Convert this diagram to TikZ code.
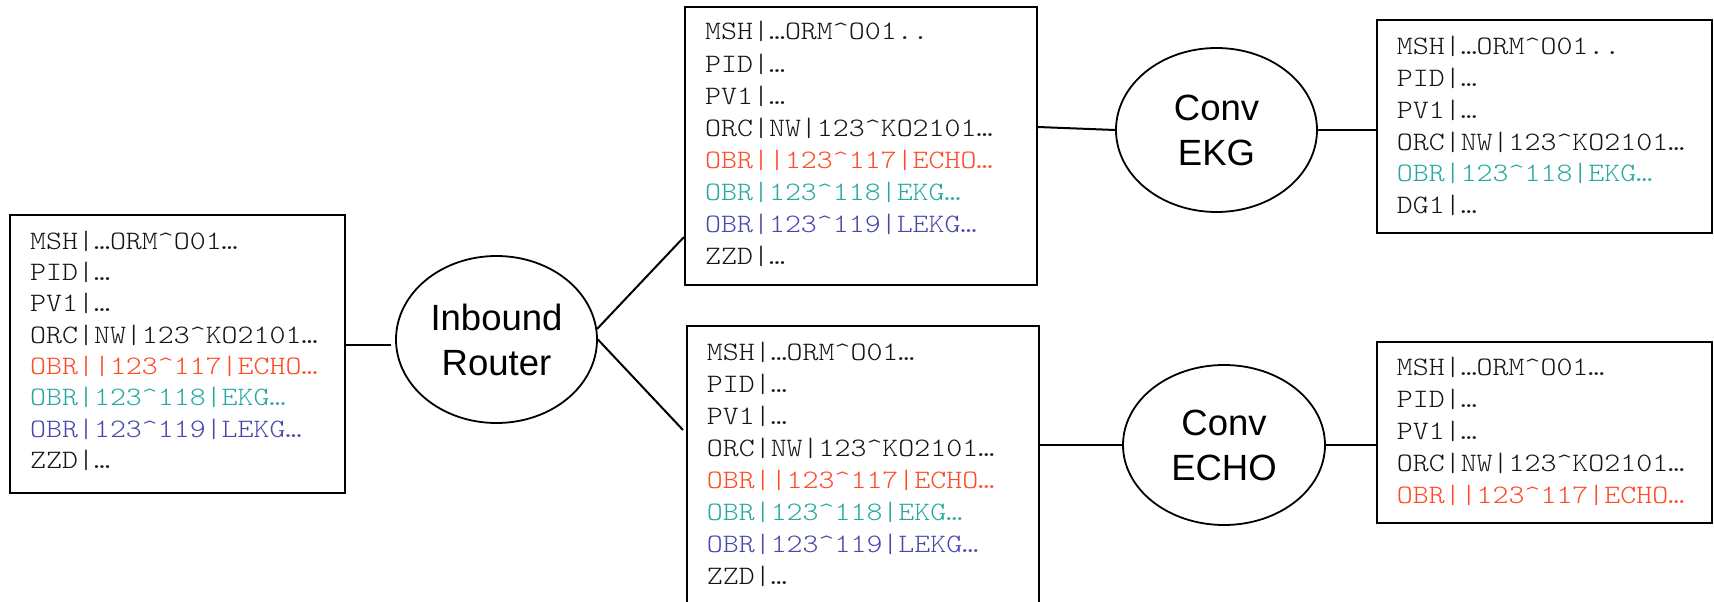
\documentclass[tikz,border=0pt]{standalone}
\usepackage{fontspec}
\usetikzlibrary{shapes.geometric}
\newfontfamily\hlmono[FakeStretch=1.143]{lmmonolt10-regular.otf}
\newfontfamily\hlsans{Liberation Sans}
\definecolor{obrred}{RGB}{255,72,36}
\definecolor{obrteal}{RGB}{38,168,160}
\definecolor{obrblue}{RGB}{72,72,172}
\definecolor{segblack}{RGB}{20,20,20}
\newcommand\ct{\textasciicircum}
\begin{document}
\begin{tikzpicture}[x=1pt,y=-1pt,
  msgbox/.style={draw=black, line width=2pt, rectangle, inner sep=0pt},
  proc/.style={draw=black, line width=1.8pt, ellipse, inner sep=0pt, font=\hlsans\fontsize{36.5}{45}\selectfont, align=center},
  seg/.style={anchor=base west, inner sep=0pt, font=\hlmono\fontsize{26.6}{32}\selectfont},
  wire/.style={line width=2pt}]
\path[use as bounding box] (0,0) rectangle (1714,602);
\clip (0,0) rectangle (1714,602);

% message boxes
\node[msgbox, minimum width=335pt, minimum height=278pt] (b1) at (177.5,354) {};
\node[msgbox, minimum width=352pt, minimum height=278pt] (b2) at (861,146) {};
\node[msgbox, minimum width=352pt, minimum height=284pt] (b3) at (863,468) {};
\node[msgbox, minimum width=335pt, minimum height=213pt] (b4) at (1544.5,126.5) {};
\node[msgbox, minimum width=335pt, minimum height=181pt] (b5) at (1544.5,432.5) {};

% processes
\node[proc, minimum width=201pt, minimum height=167pt] (router) at (496.5,339.5) {Inbound\\Router};
\node[proc, minimum width=201pt, minimum height=164pt] (ekg) at (1216.5,130) {Conv\\EKG};
\node[proc, minimum width=202pt, minimum height=160pt] (echo) at (1224,445) {Conv\\ECHO};

% segment lines
\foreach \t/\c [count=\i from 0] in {MSH|…ORM\ct O01…/segblack, PID|…/segblack, PV1|…/segblack, ORC|NW|123\ct KO2101…/segblack, OBR||123\ct 117|ECHO…/obrred, OBR|123\ct 118|EKG…/obrteal, OBR|123\ct 119|LEKG…/obrblue, ZZD|…/segblack}
  \node[seg, text=\c] (b1l\i) at (30,{249.3+31.3*\i}) {\t};

\foreach \t/\c [count=\i from 0] in {MSH|…ORM\ct O01../segblack, PID|…/segblack, PV1|…/segblack, ORC|NW|123\ct KO2101…/segblack, OBR||123\ct 117|ECHO…/obrred, OBR|123\ct 118|EKG…/obrteal, OBR|123\ct 119|LEKG…/obrblue, ZZD|…/segblack}
  \node[seg, text=\c] (b2l\i) at (705,{40+32.14*\i}) {\t};

\foreach \t/\c [count=\i from 0] in {MSH|…ORM\ct O01…/segblack, PID|…/segblack, PV1|…/segblack, ORC|NW|123\ct KO2101…/segblack, OBR||123\ct 117|ECHO…/obrred, OBR|123\ct 118|EKG…/obrteal, OBR|123\ct 119|LEKG…/obrblue, ZZD|…/segblack}
  \node[seg, text=\c] (b3l\i) at (706.7,{360+32.14*\i}) {\t};

\foreach \t/\c [count=\i from 0] in {MSH|…ORM\ct O01../segblack, PID|…/segblack, PV1|…/segblack, ORC|NW|123\ct KO2101…/segblack, OBR|123\ct 118|EKG…/obrteal, DG1|…/segblack}
  \node[seg, text=\c] (b4l\i) at (1396.7,{55+31.67*\i}) {\t};

\foreach \t/\c [count=\i from 0] in {MSH|…ORM\ct O01…/segblack, PID|…/segblack, PV1|…/segblack, ORC|NW|123\ct KO2101…/segblack, OBR||123\ct 117|ECHO…/obrred}
  \node[seg, text=\c] (b5l\i) at (1396.7,{375+32.07*\i}) {\t};

% connectors
\draw[wire] (b1.east |- 0,345) -- ([xshift=-4pt]router.west |- 0,345);
\draw[wire] (router.6) -- (b2.west |- 0,237);
\draw[wire] (router.east) -- ([xshift=-3pt]b3.west |- 0,430);
\draw[wire] (b2.east |- 0,127) -- (ekg.west);
\draw[wire] (ekg.east) -- (b4.west |- ekg.east);
\draw[wire] (b3.east |- echo.west) -- (echo.west);
\draw[wire] (echo.east) -- (b5.west |- echo.east);
\end{tikzpicture}
\end{document}
